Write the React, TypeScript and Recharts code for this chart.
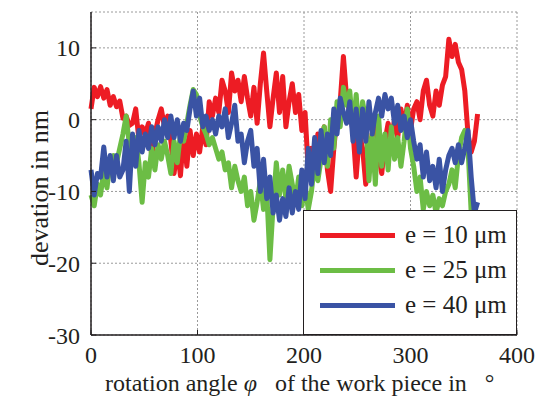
import React from "react";
import { LineChart, Line, XAxis, YAxis, CartesianGrid, Legend, Label } from "recharts";

const angles = [
  0, 3, 6, 9, 12, 15, 18, 21, 24, 27,
  30, 33, 36, 39, 42, 45, 48, 51, 54, 57,
  60, 63, 66, 69, 72, 75, 78, 81, 84, 87,
  90, 93, 96, 99, 102, 105, 108, 111, 114, 117,
  120, 123, 126, 129, 132, 135, 138, 141, 144, 147,
  150, 153, 156, 159, 162, 165, 168, 171, 174, 177,
  180, 183, 186, 189, 192, 195, 198, 201, 204, 207,
  210, 213, 216, 219, 222, 225, 228, 231, 234, 237,
  240, 243, 246, 249, 252, 255, 258, 261, 264, 267,
  270, 273, 276, 279, 282, 285, 288, 291, 294, 297,
  300, 303, 306, 309, 312, 315, 318, 321, 324, 327,
  330, 333, 336, 339, 342, 345, 348, 351, 354, 357,
  360, 363,
];

const e10 = [
  1.5, 4.5, 3.2, 4.6, 3.0, 4.2, 2.0, 3.2, 1.8, 2.6,
  0.2, 0.5, -0.8, -0.5, 1.5, -2.8, -1.0, -2.0, -0.5, -5.0,
  -2.0, 0.0, 1.5, -1.0, 0.5, -3.0, -7.5, -4.0, -7.8, -2.0,
  -6.5, -1.5, -5.0, -2.0, -4.5, -1.0, -3.5, 2.5, 0.5, 3.0,
  1.0, 5.5, 4.0, 1.0, 6.5, 4.0, 5.5, 2.5, 6.0, 3.0,
  0.5, 4.5, -0.5, 5.0, 9.3, 4.0, -1.0, 3.0, 6.5, 1.0,
  6.0, -1.0, 2.5, 5.0, 1.0, 3.5, -1.5, 1.0, -7.0, -4.0,
  -6.5, -2.0, -3.0, -1.0, -7.0, -10.0, -4.0, 0.5, 2.5, 8.8,
  3.0, 1.0, -1.5, -8.0, -2.0, -4.0, -9.0, -5.0, -2.0, 0.5,
  -5.0, -7.5, -3.0, -0.5, -2.5, 0.0, -2.5, 1.5, -1.0, 2.0,
  -1.5, 1.5, 2.5, 0.0, 4.0, 5.5, 2.0, 0.5, 4.0, 2.0,
  4.8, 6.0, 11.2, 8.8, 10.5, 8.0, 7.0, 4.0, -2.0, -4.5,
  -3.0, 0.8,
];

const e25 = [
  -10.5, -12.0, -9.0, -10.5, -7.0, -9.5, -6.0, -5.0, -6.0, -4.0,
  -2.0, 0.5, -3.5, -5.5, -2.5, -6.0, -11.5, -6.0, -8.0, -4.0,
  -7.0, -3.5, -5.5, -3.0, -5.0, -7.5, -3.0, -6.0, -2.0, -3.0,
  -0.5, 2.0, 4.2, 3.5, 0.5, -1.0, -2.0, -3.5, -2.5, -4.0,
  -5.5, -4.5, -7.0, -6.0, -9.5, -6.5, -8.5, -10.0, -8.0, -12.0,
  -10.0, -14.0, -11.5, -8.5, -12.5, -10.0, -19.5, -12.0, -6.0, -10.5,
  -7.0, -11.0, -6.5, -9.0, -11.5, -8.0, -12.0, -9.0, -12.5, -10.0,
  -6.0, -8.5, -5.5, -1.0, -6.5, 0.0, -4.0, 2.5, -1.0, 4.5,
  2.0, 4.0, -1.5, 3.5, -2.5, 2.5, 0.0, -8.5, -2.0, -9.0,
  0.5, -6.5, -2.0, -7.0, -1.0, -5.5, -2.5, -6.5, -3.0, 1.5,
  -4.0, -6.5, -10.0, -8.0, -12.5, -10.0, -12.0, -10.5, -13.0, -11.0,
  -12.0, -10.0, -9.0, -7.0, -9.5, -5.0, -2.5, -1.5, -4.0, -13.0,
  -16.0, null,
];

const e40 = [
  -7.0, -10.5, -7.5, -8.0, -3.8, -8.0, -5.0, -8.5, -5.0, -8.0,
  -7.0, -3.0, -10.0, -2.0, -6.5, -1.5, -4.5, -2.0, -4.0, -1.0,
  -3.5, -1.0, -3.0, 0.0, -2.5, 0.5, -2.5, 0.0, -3.0, -0.5,
  -1.5, 1.5, 4.0, 0.5, 3.0, -1.0, 0.5, -1.5, 0.0, -2.0,
  0.5, -1.0, 1.5, -2.5, -0.5, 2.0, -3.0, -2.0, -6.0, -3.0,
  -1.5, -6.5, -4.0, -10.0, -5.5, -11.0, -8.0, -13.0, -10.5, -14.0,
  -11.0, -13.5, -9.5, -13.0, -10.0, -12.5, -7.0, -11.0, -4.0, -9.0,
  -2.5, -7.5, -1.5, -6.0, -2.0, -5.0, 1.5, -2.0, 3.0, 1.0,
  -0.5, 2.5, -3.0, 1.5, -4.5, 1.5, -3.0, 2.5, -2.0, 1.0,
  3.0, 0.5, 3.5, 1.5, 3.0, -0.5, 2.0, -1.5, 0.5, -2.5,
  0.0, -3.0, -5.5, -3.5, -8.0, -4.5, -8.5, -6.5, -9.5, -5.5,
  -10.0, -7.0, -5.0, -4.0, -6.0, -3.5, -6.0, -4.0, -1.5, -8.0,
  -13.0, -11.5,
];

const xTicks = [0, 100, 200, 300, 400];
const yTicks = [-30, -20, -10, 0, 10];
const seriesKeys = ["e10", "e25", "e40"];
const seriesNames = ["e = 10 μm", "e = 25 μm", "e = 40 μm"];
const seriesColors = ["#ED1C24", "#6CBD45", "#3A53A4"];

const data = angles.map((a, i) => ({ angle: a, e10: e10[i], e25: e25[i], e40: e40[i] }));

const FONT = "Liberation Serif, Times New Roman, Times, Tinos, serif";
const INK = "#231F20";

const renderLegend = () => (
  <div
    style={{
      width: 214,
      height: 125,
      background: "#fff",
      border: `1.5px solid ${INK}`,
      boxSizing: "border-box",
      position: "relative",
      fontFamily: FONT,
      fontSize: 25,
      color: INK,
    }}
  >
    {seriesNames.map((name, i) => (
      <div key={name} style={{ position: "absolute", left: 16, top: 24 + i * 35 - 14, height: 28, display: "flex", alignItems: "center" }}>
        <div style={{ width: 75, height: 5, background: seriesColors[i] }} />
        <span style={{ marginLeft: 10, whiteSpace: "nowrap", lineHeight: "28px" }}>{name}</span>
      </div>
    ))}
  </div>
);

export default function App() {
  const tickStyle = { fontFamily: FONT, fontSize: 24, fill: INK };
  return (
    <div style={{ width: 530, height: 392 }}>
      <LineChart width={530} height={392} data={data} margin={{ top: 4, right: 21, left: 0, bottom: 0 }}>
        <CartesianGrid xAxisId="b" yAxisId="l" stroke="#9a9a9a" strokeDasharray="2 2" strokeWidth={1} />
        <XAxis
          xAxisId="b"
          dataKey="angle"
          type="number"
          domain={[0, 400]}
          ticks={xTicks}
          height={65}
          axisLine={{ stroke: INK, strokeWidth: 1.5 }}
          tickLine={{ stroke: INK }}
          tickSize={-5}
          tickMargin={16}
          tick={tickStyle}
          interval={0}
        >
          <Label
            content={() => (
              <text x={97} y={383} fontFamily={FONT} fontSize={24} fill={INK}>
                rotation angle <tspan fontStyle="italic">φ</tspan>
                {"\u00a0\u00a0\u00a0"}of the work piece in {"\u00a0\u00a0"}°
              </text>
            )}
          />
        </XAxis>
        <XAxis
          xAxisId="t"
          orientation="top"
          dataKey="angle"
          type="number"
          domain={[0, 400]}
          ticks={xTicks}
          height={0}
          axisLine={{ stroke: INK, strokeWidth: 1.5 }}
          tickLine={{ stroke: INK }}
          tickSize={-5}
          tickFormatter={() => ""}
          interval={0}
        />
        <YAxis
          yAxisId="l"
          type="number"
          domain={[-30, 15]}
          ticks={yTicks}
          width={83}
          axisLine={{ stroke: INK, strokeWidth: 1.5 }}
          tickLine={{ stroke: INK }}
          tickSize={-5}
          tickMargin={16}
          tick={tickStyle}
          interval={0}
        >
          <Label
            content={() => (
              <text
                x={31}
                y={180}
                transform="rotate(-90 31 180)"
                textAnchor="middle"
                dominantBaseline="central"
                fontFamily={FONT}
                fontSize={26}
                fill={INK}
              >
                devation in nm
              </text>
            )}
          />
        </YAxis>
        <YAxis
          yAxisId="r"
          orientation="right"
          type="number"
          domain={[-30, 15]}
          ticks={yTicks}
          width={0}
          axisLine={{ stroke: INK, strokeWidth: 1.5 }}
          tickLine={{ stroke: INK }}
          tickSize={-5}
          tickFormatter={() => ""}
          interval={0}
        />
        {seriesKeys.map((k, i) => (
          <Line
            key={k}
            xAxisId="b"
            yAxisId="l"
            type="linear"
            dataKey={k}
            name={seriesNames[i]}
            stroke={seriesColors[i]}
            strokeWidth={5}
            strokeLinejoin="round"
            dot={false}
            activeDot={false}
            isAnimationActive={false}
            connectNulls={false}
          />
        ))}
        <Legend
          layout="vertical"
          align="center"
          verticalAlign="middle"
          content={renderLegend}
          wrapperStyle={{ left: 295, top: 202, width: 214, height: 125 }}
        />
      </LineChart>
    </div>
  );
}
